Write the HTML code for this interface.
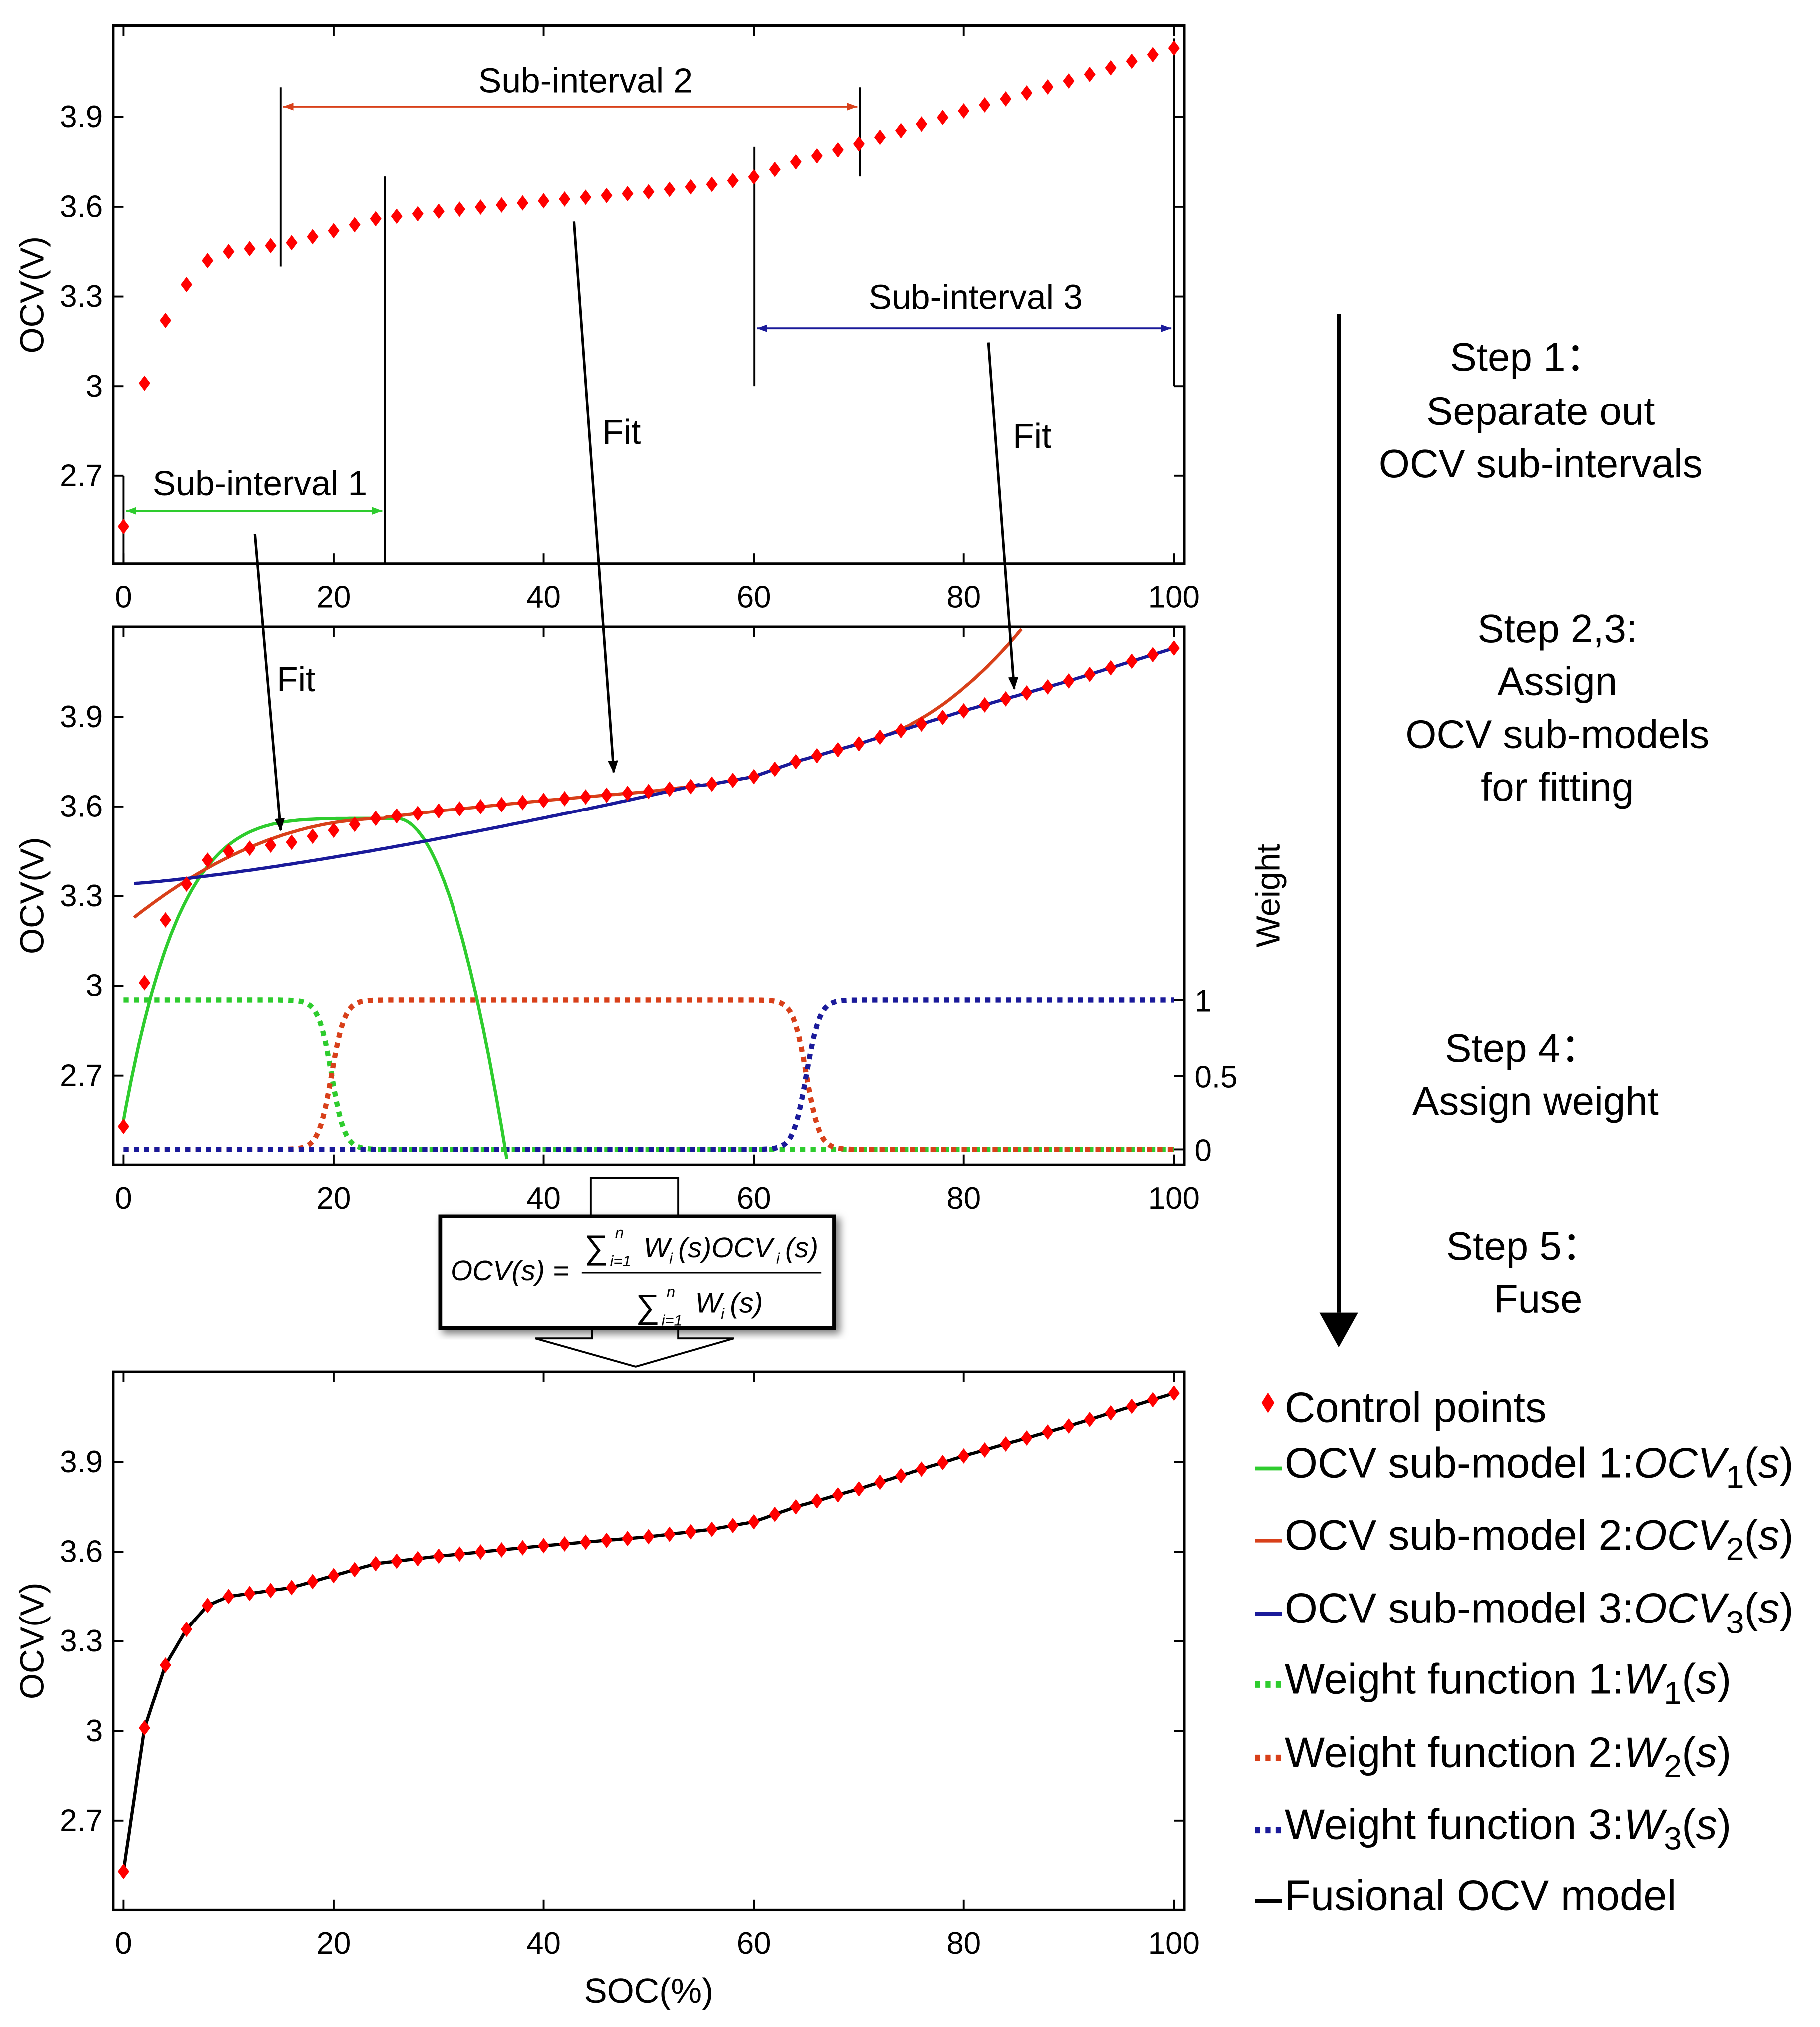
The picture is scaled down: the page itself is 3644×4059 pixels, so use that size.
<!DOCTYPE html>
<html><head><meta charset="utf-8"><style>
html,body{margin:0;padding:0;background:#fff}
svg{display:block}
text{font-family:"Liberation Sans",Arial,sans-serif}
</style></head><body>
<svg id="s" width="3644" height="4059" viewBox="0 0 1414 1575" xmlns="http://www.w3.org/2000/svg">
<defs>
<marker id="ab" markerWidth="10" markerHeight="10" refX="9" refY="5" orient="auto" markerUnits="userSpaceOnUse"><path d="M0,1 L10,5 L0,9z" fill="#000"/></marker>
<marker id="ar" markerWidth="8" markerHeight="8" refX="8" refY="4" orient="auto-start-reverse" markerUnits="userSpaceOnUse"><path d="M0,1 L8,4 L0,7z" fill="#d8401a"/></marker>
<marker id="abl" markerWidth="8" markerHeight="8" refX="8" refY="4" orient="auto-start-reverse" markerUnits="userSpaceOnUse"><path d="M0,1 L8,4 L0,7z" fill="#1a1a9a"/></marker>
<marker id="ag" markerWidth="8" markerHeight="8" refX="8" refY="4" orient="auto-start-reverse" markerUnits="userSpaceOnUse"><path d="M0,1 L8,4 L0,7z" fill="#2ecc2e"/></marker>
<filter id="sh"><feDropShadow dx="3" dy="3" stdDeviation="3" flood-opacity="0.5"/></filter>
</defs>
<g id="g"></g>
</svg>
<script>
var g=document.getElementById('g'),NS='http://www.w3.org/2000/svg';
function el(t,a,txt){var e=document.createElementNS(NS,t);for(var k in a)e.setAttribute(k,a[k]);if(txt!==undefined)e.textContent=txt;g.appendChild(e);return e;}
function X(s){return 96+8.16*s;}
var kn=[[0,2.53],[2,3.01],[4,3.22],[6,3.34],[8,3.42],[10,3.45],[12,3.46],[14,3.47],[16,3.48],[18,3.50],[20,3.52],[22,3.54],[24,3.56],[30,3.585],[40,3.62],[50,3.65],[56,3.675],[60,3.70],[64,3.75],[70,3.81],[80,3.92],[90,4.02],[100,4.13]];
function ocv(s){for(var i=1;i<kn.length;i++){if(s<=kn[i][0]){var a=kn[i-1],b=kn[i];return a[1]+(b[1]-a[1])*(s-a[0])/(b[0]-a[0]);}}return 4.13;}
var tops=[20,487,1066];
function Yf(p){var b=[300,766,1345][p];return function(v){return b-(v-3)*232.3;};}
function axes(p,right){
 var t=tops[p],b=t+418,Y=Yf(p);
 el('rect',{x:88,y:t,width:832,height:418,fill:'none',stroke:'#000','stroke-width':2});
 [0,20,40,60,80,100].forEach(function(s){var x=X(s);el('line',{x1:x,y1:b,x2:x,y2:b-8,stroke:'#000','stroke-width':1.5});el('line',{x1:x,y1:t,x2:x,y2:t+8,stroke:'#000','stroke-width':1.5});el('text',{x:x,y:b+34,'font-size':24,'text-anchor':'middle'},String(s));});
 [2.7,3,3.3,3.6,3.9].forEach(function(v){var y=Y(v);el('line',{x1:88,y1:y,x2:96,y2:y,stroke:'#000','stroke-width':1.5});if(!right)el('line',{x1:920,y1:y,x2:912,y2:y,stroke:'#000','stroke-width':1.5});el('text',{x:80,y:y+8,'font-size':24,'text-anchor':'end'},String(v));});
 el('text',{x:34,y:t+209,'font-size':26,'text-anchor':'middle',transform:'rotate(-90 34 '+(t+209)+')'},'OCV(V)');
}
axes(0);axes(1,true);axes(2);
function pts(p){var Y=Yf(p);for(var s=0;s<=100;s+=2){var x=X(s),y=Y(ocv(s));el('path',{d:'M'+x+','+(y-6)+' L'+(x+4.5)+','+y+' L'+x+','+(y+6)+' L'+(x-4.5)+','+y+'z',fill:'#f00'});}}
function curve(f,s0,s1,col,w,dash,clipT,clipB){var d='';for(var s=s0;s<=s1+1e-9;s+=0.25){var y=f(s);if(y<clipT||y>clipB)continue;d+=(d?'L':'M')+X(s).toFixed(1)+','+y.toFixed(1);}var a={d:d,fill:'none',stroke:col,'stroke-width':w};if(dash)a['stroke-dasharray']=dash;el('path',a);}
[[218,68,207],[299,137,438],[586,114,300],[668,68,137],[912,30,300],[96,370,438]].forEach(function(l){el('line',{x1:l[0],y1:l[1],x2:l[0],y2:l[2],stroke:'#000','stroke-width':1.5});});
el('line',{x1:220,y1:83,x2:666,y2:83,stroke:'#d8401a','stroke-width':1.5,'marker-start':'url(#ar)','marker-end':'url(#ar)'});
el('line',{x1:588,y1:255,x2:910,y2:255,stroke:'#1a1a9a','stroke-width':1.5,'marker-start':'url(#abl)','marker-end':'url(#abl)'});
el('line',{x1:98,y1:397,x2:297,y2:397,stroke:'#2ecc2e','stroke-width':1.5,'marker-start':'url(#ag)','marker-end':'url(#ag)'});
el('text',{x:455,y:72,'font-size':27,'text-anchor':'middle'},'Sub-interval 2');
el('text',{x:758,y:240,'font-size':27,'text-anchor':'middle'},'Sub-interval 3');
el('text',{x:202,y:385,'font-size':27,'text-anchor':'middle'},'Sub-interval 1');
pts(0);
var Y2=Yf(1);
var W0=893,W1=777;
function sig(s,c){return 1/(1+Math.exp(-(s-c)*1.6));}
curve(function(s){return W0-(W0-W1)*(1-sig(s,19.8));},0,100,'#2ecc2e',4,'4,4',0,2000);
curve(function(s){return W0-(W0-W1)*(sig(s,19.8)-sig(s,65));},0,100,'#d8401a',4,'4,4',0,2000);
curve(function(s){return W0-(W0-W1)*sig(s,65);},0,100,'#1a1a9a',4,'4,4',0,2000);
curve(function(s){var v;if(s<=26){v=2.55+1.01*(1-Math.pow(1-s/26,5));}else{var u=(s-26)/11;v=3.56-u*u*1.25;}return Y2(v);},0,37.2,'#2ecc2e',2.5,null,487,905);
curve(function(s){var v;if(s<25){v=3.2+0.36*(1-Math.pow(1-s/25,2));}else{v=ocv(s)+Math.pow(Math.max(0,s-72),2)*0.0012;}return Y2(v);},1,95,'#d8401a',2.5,null,487,905);
curve(function(s){var v;if(s<55){v=3.34+0.335*Math.pow(s/55,1.3);}else{v=ocv(s);}return Y2(v);},1,100,'#1a1a9a',2.5,null,487,905);
pts(1);
[[1,777],[0.5,836],[0,893]].forEach(function(a){el('line',{x1:920,y1:a[1],x2:912,y2:a[1],stroke:'#000','stroke-width':1.5});el('text',{x:928,y:a[1]+9,'font-size':24},String(a[0]));});
el('text',{x:994,y:696,'font-size':26,'text-anchor':'middle',transform:'rotate(-90 994 696)'},'Weight');
el('line',{x1:198,y1:415,x2:218,y2:645,stroke:'#000','stroke-width':2,'marker-end':'url(#ab)'});
el('line',{x1:446,y1:172,x2:477,y2:600,stroke:'#000','stroke-width':2,'marker-end':'url(#ab)'});
el('line',{x1:768,y1:266,x2:788,y2:535,stroke:'#000','stroke-width':2,'marker-end':'url(#ab)'});
el('text',{x:215,y:537,'font-size':27},'Fit');
el('text',{x:468,y:345,'font-size':27},'Fit');
el('text',{x:787,y:348,'font-size':27},'Fit');
var Y3=Yf(2);
curve(function(s){return Y3(ocv(s));},0,100,'#000',2.5,null,0,2000);
pts(2);
el('text',{x:504,y:1556,'font-size':27,'text-anchor':'middle'},'SOC(%)');
el('path',{d:'M459,945 L459,915 L527,915 L527,945',fill:'none',stroke:'#000','stroke-width':1.5});
el('path',{d:'M460,1032 L460,1040 L416,1040 L494,1062 L570,1040 L527,1040 L527,1032',fill:'#fff',stroke:'#000','stroke-width':1.5});
el('rect',{x:342,y:945,width:306,height:87,fill:'#fff',stroke:'#000','stroke-width':3,filter:'url(#sh)'});
function ft(x,y,sz,t,anchor){var a={x:x,y:y,'font-size':sz,'font-family':'Liberation Serif, serif','font-style':'italic'};if(anchor)a['text-anchor']=anchor;el('text',a,t);}
ft(350,995,22,'OCV(s) =');
el('line',{x1:452,y1:989,x2:638,y2:989,stroke:'#000','stroke-width':1.3});
el('text',{x:454,y:978,'font-size':26,'font-family':'Liberation Serif, serif'},'∑');
ft(478,962,12,'n');ft(474,984,12,'i=1');
ft(500,977,22,'W');ft(520,982,12,'i');ft(527,977,22,'(s)OCV');ft(603,982,12,'i');ft(610,977,22,'(s)');
el('text',{x:494,y:1024,'font-size':26,'font-family':'Liberation Serif, serif'},'∑');
ft(518,1008,12,'n');ft(514,1030,12,'i=1');
ft(540,1020,22,'W');ft(560,1025,12,'i');ft(567,1020,22,'(s)');
el('line',{x1:1040,y1:244,x2:1040,y2:1020,stroke:'#000','stroke-width':3});
el('path',{d:'M1025,1020 L1055,1020 L1040,1047z',fill:'#000'});
function st(x,y,t){el('text',{x:x,y:y,'font-size':31,'text-anchor':'middle'},t);}
st(1187,288,'Step 1：');st(1197,330,'Separate out');st(1197,371,'OCV sub-intervals');
st(1210,499,'Step 2,3:');st(1210,540,'Assign');st(1210,581,'OCV sub-models');st(1210,622,'for fitting');
st(1183,825,'Step 4：');st(1193,866,'Assign weight');
st(1184,979,'Step 5：');st(1195,1020,'Fuse');
function leg(y,type,col,parts){
 if(type=='d')el('path',{d:'M985,'+(y-18)+' L990,'+(y-10)+' L985,'+(y-2)+' L980,'+(y-10)+'z',fill:'#f00'});
 else if(type=='l')el('line',{x1:975,y1:y-2,x2:996,y2:y-2,stroke:col,'stroke-width':3});
 else el('line',{x1:975,y1:y-2,x2:996,y2:y-2,stroke:col,'stroke-width':5,'stroke-dasharray':'4,4'});
 var t=el('text',{x:998,y:y+5,'font-size':33});
 parts.forEach(function(p){var ts=document.createElementNS(NS,'tspan');ts.textContent=p[0];if(p[1]=='i')ts.setAttribute('font-style','italic');if(p[1]=='sub'){ts.setAttribute('dy','8');ts.setAttribute('font-size','25');}if(p[1]=='up'){ts.setAttribute('dy','-8');}t.appendChild(ts);});
}
leg(1100,'d','',[['Control points']]);
leg(1143,'l','#2ecc2e',[['OCV sub-model 1:'],['OCV','i'],['1','sub'],['(','up'],['s','i'],[')']]);
leg(1199,'l','#d8401a',[['OCV sub-model 2:'],['OCV','i'],['2','sub'],['(','up'],['s','i'],[')']]);
leg(1256,'l','#1a1a9a',[['OCV sub-model 3:'],['OCV','i'],['3','sub'],['(','up'],['s','i'],[')']]);
leg(1311,'w','#2ecc2e',[['Weight function 1:'],['W','i'],['1','sub'],['(','up'],['s','i'],[')']]);
leg(1368,'w','#d8401a',[['Weight function 2:'],['W','i'],['2','sub'],['(','up'],['s','i'],[')']]);
leg(1424,'w','#1a1a9a',[['Weight function 3:'],['W','i'],['3','sub'],['(','up'],['s','i'],[')']]);
leg(1479,'l','#000',[['Fusional OCV model']]);
</script>
</body></html>
